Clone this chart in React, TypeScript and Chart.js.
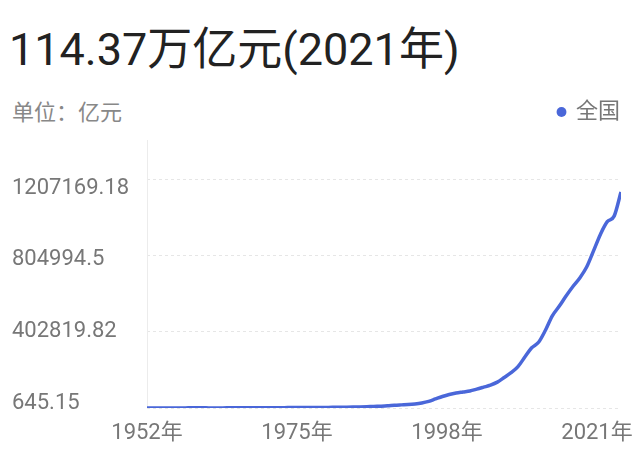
import React, { useEffect, useRef } from "react";
import { Chart, registerables } from "chart.js";

Chart.register(...registerables);

const titleText = "114.37万亿元(2021年)";
const unitText = "单位：亿元";
const seriesName = "全国";

const years = [
  1952, 1953, 1954, 1955, 1956, 1957, 1958, 1959, 1960, 1961,
  1962, 1963, 1964, 1965, 1966, 1967, 1968, 1969, 1970, 1971,
  1972, 1973, 1974, 1975, 1976, 1977, 1978, 1979, 1980, 1981,
  1982, 1983, 1984, 1985, 1986, 1987, 1988, 1989, 1990, 1991,
  1992, 1993, 1994, 1995, 1996, 1997, 1998, 1999, 2000, 2001,
  2002, 2003, 2004, 2005, 2006, 2007, 2008, 2009, 2010, 2011,
  2012, 2013, 2014, 2015, 2016, 2017, 2018, 2019, 2020, 2021,
];

const gdp = [
  679.1, 824.4, 859.8, 911.6, 1030.7, 1071.4, 1312.3, 1447.5, 1470.1, 1232.3,
  1162.2, 1248.3, 1469.9, 1734.0, 1888.7, 1794.2, 1744.1, 1962.2, 2279.7, 2456.9,
  2552.4, 2756.2, 2827.7, 3039.5, 2988.6, 3250.0, 3678.7, 4100.5, 4587.6, 4935.8,
  5373.4, 6020.9, 7278.5, 9098.9, 10376.2, 12174.6, 15180.4, 17179.7, 18872.9, 22005.6,
  27194.5, 35673.2, 48637.5, 61339.9, 71813.6, 79715.0, 85195.5, 90564.4, 100280.1, 110863.1,
  121717.4, 137422.0, 161840.2, 187318.9, 219438.5, 270092.3, 319244.6, 348517.7, 412119.3, 487940.2,
  538580.0, 592963.2, 643563.1, 688858.2, 746395.1, 832035.9, 919281.1, 986515.2, 1015986.2, 1143669.7,
];

const yTickValues = [645.15, 402819.82, 804994.5, 1207169.18];
const yTickLabels = ["645.15", "402819.82", "804994.5", "1207169.18"];
const xTickYears = [1952, 1975, 1998, 2021];

const lineColor = "#4a67d9";
const labelColor = "#777777";
const fontFamily = 'Roboto, "Noto Sans CJK SC", sans-serif';

export default function App() {
  const ref = useRef<HTMLCanvasElement>(null);

  useEffect(() => {
    if (!ref.current) return;
    const tickFont = { family: fontFamily, size: 22 };
    const chart = new Chart(ref.current, {
      type: "line",
      data: {
        datasets: [
          {
            label: seriesName,
            data: years.map((yr, i) => ({ x: yr, y: gdp[i] })),
            borderColor: lineColor,
            backgroundColor: lineColor,
            borderWidth: 3.5,
            pointRadius: 0,
            cubicInterpolationMode: "monotone",
            xAxisID: "x",
            yAxisID: "y",
          },
        ],
      },
      options: {
        responsive: false,
        animation: false,
        devicePixelRatio: 1,
        layout: { padding: { top: 1, left: 12, right: 10, bottom: 0 } },
        plugins: {
          tooltip: { enabled: false },
          legend: {
            position: "top",
            align: "end",
            labels: {
              usePointStyle: true,
              pointStyle: "circle",
              boxWidth: 7,
              boxHeight: 7,
              padding: 10,
              color: labelColor,
              font: tickFont,
              generateLabels: (c: any) =>
                Chart.defaults.plugins.legend.labels
                  .generateLabels(c)
                  .map((l: any) => ({ ...l, lineWidth: 0, strokeStyle: "rgba(0,0,0,0)" })),
            },
          },
        },
        scales: {
          x: {
            type: "linear",
            position: "top",
            min: years[0],
            max: years[years.length - 1],
            ticks: { display: false },
            grid: { display: false, drawTicks: false },
            border: { display: false },
            afterFit: (s: any) => {
              s.height = 7;
              s.paddingLeft = 0;
              s.paddingRight = 0;
            },
          },
          xl: {
            type: "linear",
            position: "bottom",
            min: years[0],
            max: 2024.68,
            afterBuildTicks: (s: any) => {
              s.ticks = xTickYears.map((v) => ({ value: v }));
            },
            ticks: {
              autoSkip: false,
              maxRotation: 0,
              padding: 12,
              color: labelColor,
              font: tickFont,
              callback: (v: any) => `${v}年`,
            },
            grid: { display: false, drawTicks: false },
            border: { display: false },
            afterFit: (s: any) => {
              s.height = 50;
              s.paddingLeft = 0;
              s.paddingRight = 0;
            },
          },
          y: {
            type: "linear",
            position: "right",
            min: 645.15,
            max: 1418840,
            afterBuildTicks: (s: any) => {
              s.ticks = yTickValues.map((v) => ({ value: v }));
            },
            ticks: { display: false },
            grid: { color: "#e6e6e6", lineWidth: 1, drawTicks: false },
            border: { display: false, dash: [3, 3] },
            afterFit: (s: any) => {
              s.width = 9;
              s.paddingTop = 0;
              s.paddingBottom = 0;
            },
          },
          yl: {
            type: "linear",
            position: "left",
            min: -25729,
            max: 1478153,
            afterBuildTicks: (s: any) => {
              s.ticks = yTickValues.map((v) => ({ value: v }));
            },
            ticks: {
              crossAlign: "far",
              color: labelColor,
              font: tickFont,
              callback: (_v: any, i: number) => yTickLabels[i],
            },
            grid: { display: false, drawTicks: false },
            border: { display: true, color: "#ececec", width: 1 },
            afterFit: (s: any) => {
              s.width = 135;
              s.paddingTop = 0;
              s.paddingBottom = 0;
            },
          },
        },
      },
    } as any);
    return () => chart.destroy();
  }, []);

  return (
    <div
      style={{
        position: "fixed",
        left: 0,
        top: 0,
        width: 640,
        height: 458,
        background: "#ffffff",
        overflow: "hidden",
      }}
    >
      <div
        style={{
          position: "absolute",
          left: 9,
          top: 27,
          fontFamily,
          fontSize: 45,
          lineHeight: "45px",
          color: "#222222",
          whiteSpace: "nowrap",
        }}
      >
        {titleText}
      </div>
      <div
        style={{
          position: "absolute",
          left: 12,
          top: 102,
          fontFamily,
          fontSize: 22,
          lineHeight: "22px",
          color: "#888888",
          whiteSpace: "nowrap",
        }}
      >
        {unitText}
      </div>
      <canvas
        ref={ref}
        width={640}
        height={368}
        style={{ position: "absolute", left: 0, top: 90, width: 640, height: 368 }}
      />
    </div>
  );
}
